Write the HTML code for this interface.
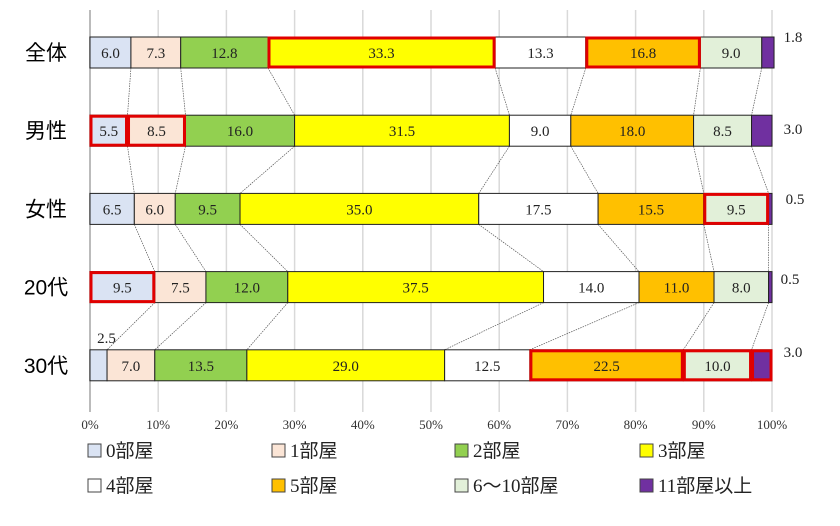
<!DOCTYPE html>
<html><head><meta charset="utf-8"><style>
body{margin:0;background:#fff;}
svg text{font-family:"Liberation Serif","Noto Serif CJK SC",serif;}
</style></head><body>
<svg id="c" width="840" height="521" xmlns="http://www.w3.org/2000/svg"></svg>
<script>
const categories=["全体","男性","女性","20代","30代"];
const seriesNames=["0部屋","1部屋","2部屋","3部屋","4部屋","5部屋","6～10部屋","11部屋以上"];
const values=[
 [6.0,7.3,12.8,33.3,13.3,16.8,9.0,1.8],
 [5.5,8.5,16.0,31.5,9.0,18.0,8.5,3.0],
 [6.5,6.0,9.5,35.0,17.5,15.5,9.5,0.5],
 [9.5,7.5,12.0,37.5,14.0,11.0,8.0,0.5],
 [2.5,7.0,13.5,29.0,12.5,22.5,10.0,3.0]
];
const highlights=[[3,5],[0,1],[6],[0],[5,6,7]];
const ticks=[0,10,20,30,40,50,60,70,80,90,100];
const colors=["#dae3f3","#fbe5d6","#92d050","#ffff00","#ffffff","#ffc000","#e2f0d9","#7030a0"];
const NS="http://www.w3.org/2000/svg";
const svg=document.getElementById('c');
const X0=90,X1=772,rowY0=37,rowStep=78.2,barH=31;
const x=v=>X0+(X1-X0)*v/100;
const y=i=>rowY0+i*rowStep;
function el(t,a,p){const e=document.createElementNS(NS,t);for(const k in a)e.setAttribute(k,a[k]);(p||svg).appendChild(e);return e;}
// grid
ticks.forEach(t=>{
 const g=el('line',{x1:x(t),x2:x(t),y1:10,y2:412,stroke:t===0?'#bbb':'#d9d9d9','stroke-width':t===0?2:1.5});
 
 
 const tx=el('text',{x:x(t),y:429,'font-size':13,'text-anchor':'middle',fill:'#333'});
 tx.textContent=t+'%';
 
 
});
// connectors
for(let i=0;i<categories.length-1;i++){
 let a=0,b=0;
 for(let s=0;s<7;s++){a+=values[i][s];b+=values[i+1][s];
  const l=el('line',{x1:x(a),y1:y(i)+barH,x2:x(b),y2:y(i+1),stroke:'#555','stroke-width':0.7,'stroke-dasharray':'1.5,1'});
  
  
 }
}
// bars
const outLabels=[[793,42],[793,134],[795,204],[790,284],[793,357]];
categories.forEach((c,i)=>{
 const lb=el('text',{x:46,y:y(i)+23,'font-size':21,'text-anchor':'middle',fill:'#000',style:'font-family:"Liberation Sans","Noto Sans CJK JP",sans-serif'});
 lb.textContent=c;
 
 
 let acc=0;
 values[i].forEach((v,s)=>{
  const r=el('rect',{x:x(acc),y:y(i),width:x(acc+v)-x(acc),height:barH,fill:colors[s],stroke:'#222','stroke-width':1});
  
  
  const w=x(acc+v)-x(acc);
  if(s<7 && w>20){
   const t=el('text',{x:x(acc+v/2),y:y(i)+21,'font-size':15,'text-anchor':'middle',fill:'#222'});
   t.textContent=v.toFixed(1);
   
   
  }
  acc+=v;
 });
 // outside labels
 const o=el('text',{x:outLabels[i][0],y:outLabels[i][1],'font-size':15,'text-anchor':'middle',fill:'#222'});
 o.textContent=values[i][7].toFixed(1);
 
 
 // highlights
 highlights[i].forEach(s=>{
  let a=0;for(let k=0;k<s;k++)a+=values[i][k];
  const h=el('rect',{x:x(a)+1,y:y(i)+1,width:x(a+values[i][s])-x(a)-2,height:barH-2,fill:'none',stroke:'#e00000','stroke-width':3});
  
  
 });
});
const small=el('text',{x:x(values[4][0]/2)+8,y:343,'font-size':15,'text-anchor':'middle',fill:'#222'});
small.textContent=values[4][0].toFixed(1);


// legend
const lx=[88,272,455,640],ly=[457,492];
seriesNames.forEach((n,s)=>{
 const gx=lx[s%4],gy=ly[Math.floor(s/4)];
 const r=el('rect',{x:gx,y:gy-13,width:13,height:13,fill:colors[s],stroke:'#444','stroke-width':1});
 
 
 const t=el('text',{x:gx+18,y:gy,'font-size':19,fill:'#222',style:'font-family:"Liberation Serif","Noto Sans CJK JP",serif'});
 t.textContent=n;
 
 
});
</script>
</body></html>
